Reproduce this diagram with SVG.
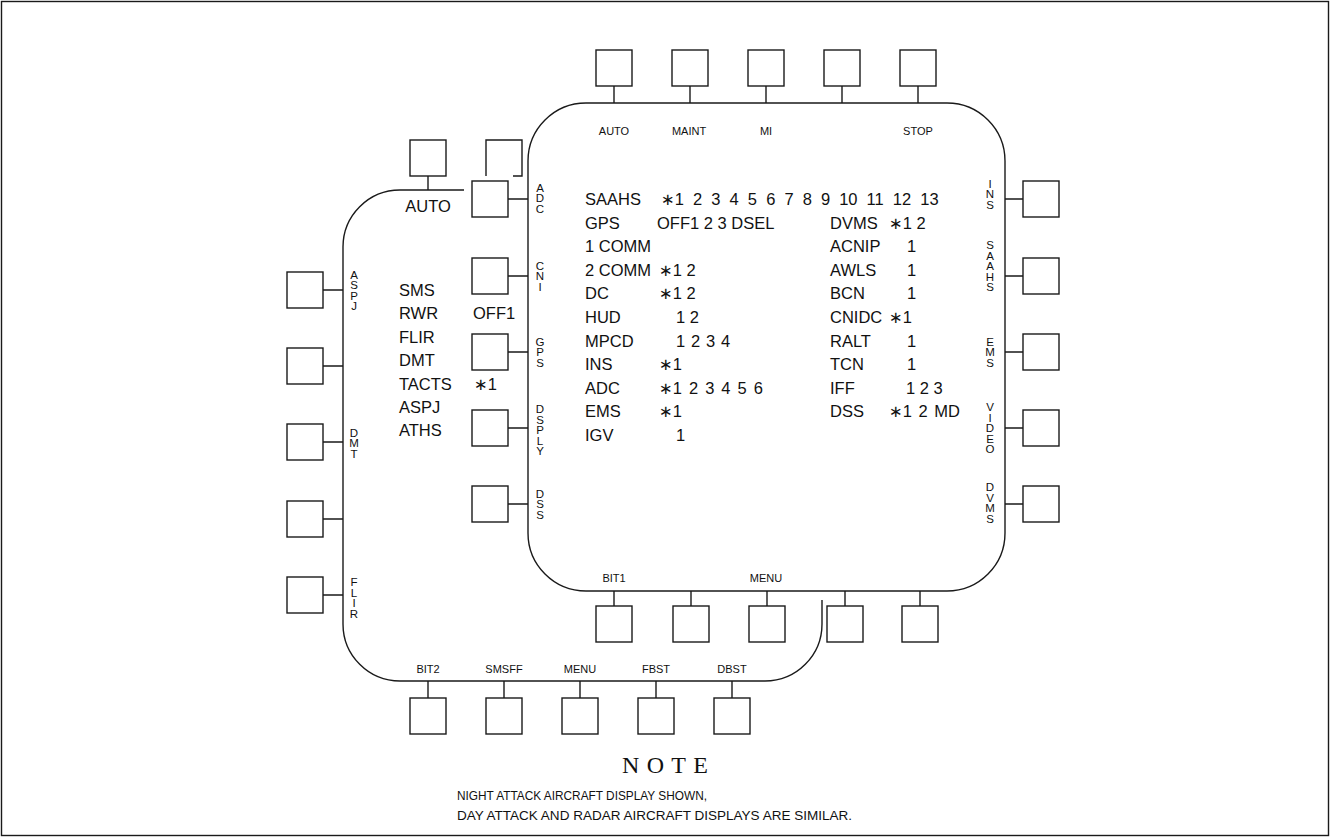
<svg xmlns="http://www.w3.org/2000/svg" width="1330" height="837" viewBox="0 0 1330 837">
<style>
.ln{fill:none;stroke:#1a1a1a;stroke-width:1.4}
.bx{fill:none;stroke:#1a1a1a;stroke-width:1.4}
text{font-family:"Liberation Sans",Arial,"DejaVu Sans",sans-serif;fill:#111}
.s{font-size:11px;text-anchor:middle}
.v{font-size:11.5px;text-anchor:middle}
.m{font-size:16.5px}
.note{font-family:"Liberation Serif","Times New Roman",serif;font-size:24px}
.nt{font-size:13.5px}
</style>
<defs><rect id="b" width="36" height="36" class="bx"/></defs>
<rect x="0" y="0" width="1330" height="837" fill="#fff"/>
<rect x="1.5" y="1.5" width="1327" height="834" class="ln"/>

<g id="back-display">
<path class="ln" d="M464,190 H400 A57,57 0 0 0 343,247 V624 A57,57 0 0 0 400,681 H765 A57,57 0 0 0 822,624 V600"/>
<text class="m" x="428" y="212" text-anchor="middle">AUTO</text>
<text class="m" x="399" y="296">SMS</text>
<text class="m" x="399" y="319.4">RWR</text>
<text class="m" x="399" y="342.8">FLIR</text>
<text class="m" x="399" y="366.2">DMT</text>
<text class="m" x="399" y="389.6">TACTS</text>
<text class="m" x="399" y="413">ASPJ</text>
<text class="m" x="399" y="436.4">ATHS</text>
<text class="m" x="473" y="319.4">OFF1</text>
<text class="m" x="474" y="389.6">∗1</text>
<text class="v" x="354" y="278.6">A<tspan x="354" dy="10.5">S</tspan><tspan x="354" dy="10.5">P</tspan><tspan x="354" dy="10.5">J</tspan></text>
<text class="v" x="354" y="436.5">D<tspan x="354" dy="10.5">M</tspan><tspan x="354" dy="10.5">T</tspan></text>
<text class="v" x="354" y="586">F<tspan x="354" dy="10.5">L</tspan><tspan x="354" dy="10.5">I</tspan><tspan x="354" dy="10.5">R</tspan></text>
<text class="s" x="428" y="673">BIT2</text>
<text class="s" x="504" y="673">SMSFF</text>
<text class="s" x="580" y="673">MENU</text>
<text class="s" x="656" y="673">FBST</text>
<text class="s" x="732" y="673">DBST</text>
</g>

<g id="front-display">
<path class="ln" d="M586,103 H947 A58,58 0 0 1 1005,161 V533 A58,58 0 0 1 947,591 H586 A58,58 0 0 1 528,533 V161 A58,58 0 0 1 586,103 Z"/>
<text class="s" x="614" y="135">AUTO</text>
<text class="s" x="689" y="135">MAINT</text>
<text class="s" x="766" y="135">MI</text>
<text class="s" x="918" y="135">STOP</text>
<text class="s" x="614" y="582">BIT1</text>
<text class="s" x="766" y="582">MENU</text>
<text class="v" x="540" y="191.5">A<tspan x="540" dy="10.5">D</tspan><tspan x="540" dy="10.5">C</tspan></text>
<text class="v" x="540" y="269.5">C<tspan x="540" dy="10.5">N</tspan><tspan x="540" dy="10.5">I</tspan></text>
<text class="v" x="540" y="345.5">G<tspan x="540" dy="10.5">P</tspan><tspan x="540" dy="10.5">S</tspan></text>
<text class="v" x="540" y="413">D<tspan x="540" dy="10.5">S</tspan><tspan x="540" dy="10.5">P</tspan><tspan x="540" dy="10.5">L</tspan><tspan x="540" dy="10.5">Y</tspan></text>
<text class="v" x="540" y="497.5">D<tspan x="540" dy="10.5">S</tspan><tspan x="540" dy="10.5">S</tspan></text>
<text class="v" x="990" y="187.5">I<tspan x="990" dy="10.5">N</tspan><tspan x="990" dy="10.5">S</tspan></text>
<text class="v" x="990" y="249">S<tspan x="990" dy="10.5">A</tspan><tspan x="990" dy="10.5">A</tspan><tspan x="990" dy="10.5">H</tspan><tspan x="990" dy="10.5">S</tspan></text>
<text class="v" x="990" y="345.5">E<tspan x="990" dy="10.5">M</tspan><tspan x="990" dy="10.5">S</tspan></text>
<text class="v" x="990" y="411">V<tspan x="990" dy="10.5">I</tspan><tspan x="990" dy="10.5">D</tspan><tspan x="990" dy="10.5">E</tspan><tspan x="990" dy="10.5">O</tspan></text>
<text class="v" x="990" y="491.2">D<tspan x="990" dy="10.5">V</tspan><tspan x="990" dy="10.5">M</tspan><tspan x="990" dy="10.5">S</tspan></text>

<text class="m" x="585" y="205">SAAHS</text>
<text class="m" x="661" y="205" word-spacing="4.5">∗1 2 3 4 5 6 7 8 9 10 11 12 13</text>
<text class="m" x="585" y="228.6">GPS</text>
<text class="m" x="657" y="228.6">OFF1 2 3 DSEL</text>
<text class="m" x="585" y="252.2">1 COMM</text>
<text class="m" x="585" y="275.8">2 COMM</text>
<text class="m" x="659" y="275.8">∗1 2</text>
<text class="m" x="585" y="299.4">DC</text>
<text class="m" x="659" y="299.4">∗1 2</text>
<text class="m" x="585" y="323">HUD</text>
<text class="m" x="676" y="323">1 2</text>
<text class="m" x="585" y="346.6">MPCD</text>
<text class="m" x="676" y="346.6" word-spacing="1.2">1 2 3 4</text>
<text class="m" x="585" y="370.2">INS</text>
<text class="m" x="659" y="370.2">∗1</text>
<text class="m" x="585" y="393.8">ADC</text>
<text class="m" x="659" y="393.8" word-spacing="2.4">∗1 2 3 4 5 6</text>
<text class="m" x="585" y="417.4">EMS</text>
<text class="m" x="659" y="417.4">∗1</text>
<text class="m" x="585" y="441">IGV</text>
<text class="m" x="676" y="441">1</text>
<text class="m" x="830" y="228.6">DVMS</text>
<text class="m" x="889" y="228.6">∗1 2</text>
<text class="m" x="830" y="252.2">ACNIP</text>
<text class="m" x="907" y="252.2">1</text>
<text class="m" x="830" y="275.8">AWLS</text>
<text class="m" x="907" y="275.8">1</text>
<text class="m" x="830" y="299.4">BCN</text>
<text class="m" x="907" y="299.4">1</text>
<text class="m" x="830" y="323">CNIDC</text>
<text class="m" x="889" y="323">∗1</text>
<text class="m" x="830" y="346.6">RALT</text>
<text class="m" x="907" y="346.6">1</text>
<text class="m" x="830" y="370.2">TCN</text>
<text class="m" x="907" y="370.2">1</text>
<text class="m" x="830" y="393.8">IFF</text>
<text class="m" x="906" y="393.8">1 2 3</text>
<text class="m" x="830" y="417.4">DSS</text>
<text class="m" x="889" y="417.4" word-spacing="2">∗1 2 MD</text>
</g>

<g id="buttons">
<g id="btn-back-top-auto"><use href="#b" x="410" y="140"/></g>
<g id="btn-back-top-2"><path class="bx" d="M486,176 V140 H522 V176 H513"/></g>
<g id="btn-aspj"><use href="#b" x="287" y="272"/></g>
<g id="btn-back-l2"><use href="#b" x="287" y="348"/></g>
<g id="btn-dmt"><use href="#b" x="287" y="424"/></g>
<g id="btn-back-l4"><use href="#b" x="287" y="501"/></g>
<g id="btn-flir"><use href="#b" x="287" y="577"/></g>
<g id="btn-bit2"><use href="#b" x="410" y="698"/></g>
<g id="btn-smsff"><use href="#b" x="486" y="698"/></g>
<g id="btn-menu2"><use href="#b" x="562" y="698"/></g>
<g id="btn-fbst"><use href="#b" x="638" y="698"/></g>
<g id="btn-dbst"><use href="#b" x="714" y="698"/></g>
<g id="btn-adc"><use href="#b" x="472" y="181"/></g>
<g id="btn-cni"><use href="#b" x="472" y="258"/></g>
<g id="btn-gps"><use href="#b" x="472" y="334"/></g>
<g id="btn-dsply"><use href="#b" x="472" y="410"/></g>
<g id="btn-dss"><use href="#b" x="472" y="486"/></g>
<g id="btn-auto"><use href="#b" x="596" y="50"/></g>
<g id="btn-maint"><use href="#b" x="672" y="50"/></g>
<g id="btn-mi"><use href="#b" x="748" y="50"/></g>
<g id="btn-top4"><use href="#b" x="824" y="50"/></g>
<g id="btn-stop"><use href="#b" x="900" y="50"/></g>
<g id="btn-ins"><use href="#b" x="1023" y="181"/></g>
<g id="btn-saahs"><use href="#b" x="1023" y="258"/></g>
<g id="btn-ems"><use href="#b" x="1023" y="334"/></g>
<g id="btn-video"><use href="#b" x="1023" y="410"/></g>
<g id="btn-dvms"><use href="#b" x="1023" y="486"/></g>
<g id="btn-bit1"><use href="#b" x="596" y="606"/></g>
<g id="btn-bot2"><use href="#b" x="673" y="606"/></g>
<g id="btn-menu1"><use href="#b" x="749" y="606"/></g>
<g id="btn-bot4"><use href="#b" x="827" y="606"/></g>
<g id="btn-bot5"><use href="#b" x="902" y="606"/></g>
</g>

<g id="connectors" class="ln">
<path d="M428,176V190 M323,290H343 M323,366H343 M323,442H343 M323,519H343 M323,595H343
M428,681V698 M504,681V698 M580,681V698 M656,681V698 M732,681V698
M508,199H528 M508,276H528 M508,352H528 M508,428H528 M508,504H528
M614,86V103 M690,86V103 M766,86V103 M842,86V103 M918,86V103
M1005,199H1023 M1005,276H1023 M1005,352H1023 M1005,428H1023 M1005,504H1023
M614,591V606 M691,591V606 M767,591V606 M845,591V606 M920,591V606"/>
</g>

<g id="note">
<text class="note" x="622" y="773" textLength="86" lengthAdjust="spacing">NOTE</text>
<text class="nt" x="457" y="800" textLength="250" lengthAdjust="spacingAndGlyphs">NIGHT ATTACK AIRCRAFT DISPLAY SHOWN,</text>
<text class="nt" x="457" y="820" textLength="395" lengthAdjust="spacingAndGlyphs">DAY ATTACK AND RADAR AIRCRAFT DISPLAYS ARE SIMILAR.</text>
</g>
</svg>
